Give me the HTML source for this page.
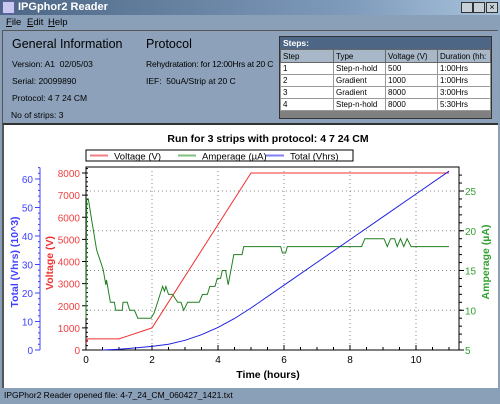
<!DOCTYPE html>
<html><head><meta charset="utf-8"><style>
*{margin:0;padding:0;box-sizing:border-box}
body{width:500px;height:404px;overflow:hidden;background:#8a9fb8;font-family:"Liberation Sans",sans-serif;position:relative}
.abs{position:absolute}
.t{font-size:10px;color:#000;white-space:nowrap}
</style></head><body>
<div class="abs" style="left:0;top:0;width:500px;height:15px;background:linear-gradient(90deg,#4d6685,#7f9bbb 70%,#a9c3dc)">
 <div class="abs" style="left:2px;top:1px;width:13px;height:13px;background:#c8c8f0;border:1px solid #6060a0"></div>
 <div class="abs t" style="left:18px;top:1px;color:#fff;font-weight:bold;font-size:11px">IPGphor2 Reader</div>
 <div class="abs" style="left:461px;top:2px;width:12px;height:11px;background:#c8d0d8;border:1px solid #333"></div>
 <div class="abs" style="left:473px;top:2px;width:12px;height:11px;background:#c8d0d8;border:1px solid #333"></div>
 <div class="abs" style="left:486px;top:2px;width:12px;height:11px;background:#c8d0d8;border:1px solid #333;font-size:9px;line-height:9px;text-align:center">×</div>
</div>
<div class="abs" style="left:0;top:15px;width:500px;height:15px;background:#8a9fb8">
 <span class="abs t" style="left:6px;top:2px;font-size:9.5px"><u>F</u>ile</span>
 <span class="abs t" style="left:27px;top:2px;font-size:9.5px"><u>E</u>dit</span>
 <span class="abs t" style="left:48px;top:2px;font-size:9.5px"><u>H</u>elp</span>
</div>
<div class="abs" style="left:2px;top:30px;width:496px;height:94px;background:#8da2ba;border-top:1px solid #555;border-left:1px solid #555">
 <div class="abs t" style="left:9px;top:6px;font-size:12.5px">General Information</div>
 <div class="abs t" style="left:9px;top:28px;font-size:8.5px">Version: A1&nbsp; 02/05/03</div>
 <div class="abs t" style="left:9px;top:45px;font-size:8.5px">Serial: 20099890</div>
 <div class="abs t" style="left:9px;top:62px;font-size:8.5px">Protocol: 4 7 24 CM</div>
 <div class="abs t" style="left:8px;top:79px;font-size:8.5px">No of strips: 3</div>
 <div class="abs t" style="left:143px;top:6px;font-size:12.5px">Protocol</div>
 <div class="abs t" style="left:143px;top:28px;font-size:8.5px;letter-spacing:-0.2px">Rehydratation: for 12:00Hrs at 20 C</div>
 <div class="abs t" style="left:143px;top:45px;font-size:8.5px">IEF:&nbsp; 50uA/Strip at 20 C</div>
</div>
<div class="abs" style="left:279px;top:36px;width:213px;height:83px;background:#808080;border:1px solid #333">
 <div class="abs t" style="left:0;top:0;width:211px;height:12px;background:#4d6685;color:#fff;font-weight:bold;font-size:8.5px;padding-left:3px;line-height:12px">Steps:</div>
 <table class="abs" style="left:0;top:12px;width:211px;border-collapse:collapse;font-size:8px;table-layout:fixed">
  <tr style="background:#a9b8c8;height:13px"><td style="width:53px;border:1px solid #666;padding-left:2px">Step</td><td style="width:52px;border:1px solid #666;padding-left:2px">Type</td><td style="width:52px;border:1px solid #666;padding-left:2px">Voltage (V)</td><td style="border:1px solid #666;padding-left:2px;white-space:nowrap;overflow:hidden">Duration (hh:</td></tr>
  <tr style="background:#fff;height:12px"><td style="border:1px solid #999;padding-left:2px">1</td><td style="border:1px solid #999;padding-left:2px">Step-n-hold</td><td style="border:1px solid #999;padding-left:2px">500</td><td style="border:1px solid #999;padding-left:2px">1:00Hrs</td></tr>
  <tr style="background:#fff;height:12px"><td style="border:1px solid #999;padding-left:2px">2</td><td style="border:1px solid #999;padding-left:2px">Gradient</td><td style="border:1px solid #999;padding-left:2px">1000</td><td style="border:1px solid #999;padding-left:2px">1:00Hrs</td></tr>
  <tr style="background:#fff;height:12px"><td style="border:1px solid #999;padding-left:2px">3</td><td style="border:1px solid #999;padding-left:2px">Gradient</td><td style="border:1px solid #999;padding-left:2px">8000</td><td style="border:1px solid #999;padding-left:2px">3:00Hrs</td></tr>
  <tr style="background:#fff;height:12px"><td style="border:1px solid #999;padding-left:2px">4</td><td style="border:1px solid #999;padding-left:2px">Step-n-hold</td><td style="border:1px solid #999;padding-left:2px">8000</td><td style="border:1px solid #999;padding-left:2px">5:30Hrs</td></tr>
 </table>
</div>
<div class="abs" style="left:2px;top:123px;width:496px;height:265px;background:#fff;border-top:2px solid #333;border-left:2px solid #555"></div>
<svg class="abs" style="left:0;top:0" width="500" height="404" id="chart" font-family="Liberation Sans, sans-serif"></svg>
<div class="abs" style="left:0;top:388px;width:500px;height:16px;background:#8a9fb8">
 <div class="abs t" style="left:4px;top:2px;font-size:8.5px">IPGPhor2 Reader opened file: 4-7_24_CM_060427_1421.txt</div>
</div>
<script>
const voltT=[0,0.05,1,2,5,11];
const voltV=[300,500,500,1000,8000,8000];
const ampT=[0,0.02,0.07,0.17,0.32,0.52,0.6,0.62,0.74,0.86,0.9,1.1,1.12,1.25,1.32,1.47,1.57,1.97,2.07,2.32,2.38,2.42,2.5,2.62,2.78,2.88,2.96,3.08,3.43,3.53,3.68,3.75,3.91,3.98,4.08,4.13,4.23,4.31,4.43,4.48,4.73,4.78,5.9,5.95,6.05,6.1,8.35,8.45,9.03,9.13,9.23,9.35,9.43,9.53,9.63,9.73,9.85,11];
const ampV=[9,24,24,21.4,17.6,15.1,13.2,13.8,11,11,10,10,11,11,10,10,9,9,9.7,13,12.4,13,12,12,11,11,10,11,11,12,12,13,13,14,14,15,15,13.2,15.9,17,17,18,18,17.2,17.2,18,18,19,19,18,19,19,18,19,18,19,18,18];
const vhT=[0.5,1,1.5,2,2.5,3,3.5,4,4.5,5,6,7,8,9,10,11];
const vhV=[0,0.25,0.75,1.25,2.04,3.42,5.37,7.92,11.04,14.75,22.75,30.75,38.75,46.75,54.75,62.75];
const xTicks=[0,2,4,6,8,10];
const voltTicks=[0,1000,2000,3000,4000,5000,6000,7000,8000];
const ampTicks=[5,10,15,20,25];
const vhTicks=[0,10,20,30,40,50,60];

const L=86,R=459,T=167,B=350;
const X=t=>L+t*33;
const YV=v=>B-v*177/8000;
const YA=a=>B-(a-5)*7.95;
const YH=h=>B-h*171/60;
const NS='http://www.w3.org/2000/svg';
const svg=document.getElementById('chart');
function el(tag,attrs,txt){const e=document.createElementNS(NS,tag);for(const k in attrs)e.setAttribute(k,attrs[k]);if(txt!==undefined)e.textContent=txt;svg.appendChild(e);return e;}

let e=el('rect',{x:L,y:T,width:R-L,height:B-T,fill:'#fff',stroke:'#000'});


xTicks.forEach(t=>{if(t>0){e=el('line',{x1:X(t),x2:X(t),y1:T,y2:B,stroke:'#888','stroke-dasharray':'1,3'});

}
e=el('text',{x:X(t),y:B+13,'text-anchor':'middle','font-size':10},t);

});
for(let t=0;t<=11;t+=0.5){el('line',{x1:X(t),x2:X(t),y1:B,y2:B-(t%2?3:5),stroke:'#000'});}
ampTicks.forEach(a=>{if(a>5){e=el('line',{x1:L,x2:R,y1:YA(a),y2:YA(a),stroke:'#888','stroke-dasharray':'1,3'});

}
el('line',{x1:R,x2:R+5,y1:YA(a),y2:YA(a),stroke:'#000'});
e=el('text',{x:R+6,y:YA(a)+4,'font-size':10,fill:'#30a030'},a);

});
for(let a=5;a<=27;a++)el('line',{x1:R,x2:R+3,y1:YA(a),y2:YA(a),stroke:'#000'});
voltTicks.forEach(v=>{el('line',{x1:L-4,x2:L,y1:YV(v),y2:YV(v),stroke:'#000'});
e=el('text',{x:L-6,y:YV(v)+4,'text-anchor':'end','font-size':10,fill:'#f04040'},v);

});
for(let v=0;v<=8200;v+=200)el('line',{x1:L,x2:L+2,y1:YV(v),y2:YV(v),stroke:'#000'});
el('line',{x1:40,x2:40,y1:YH(64),y2:B,stroke:'#4040ff'});
vhTicks.forEach(h=>{el('line',{x1:35,x2:40,y1:YH(h),y2:YH(h),stroke:'#4040ff'});
e=el('text',{x:33,y:YH(h)+4,'text-anchor':'end','font-size':10,fill:'#4040ff'},h);

});
for(let h=0;h<=64;h+=2)el('line',{x1:38,x2:40,y1:YH(h),y2:YH(h),stroke:'#4040ff'});

function line(ts,vs,yf,col,name){const p=ts.map((t,i)=>X(t).toFixed(1)+','+yf(vs[i]).toFixed(1)).join(' ');
const e=el('polyline',{points:p,fill:'none',stroke:col,'stroke-width':1});

}
line(voltT,voltV,YV,'#f03030','voltage-line');
line(ampT,ampV,YA,'#208020','amperage-line');
line(vhT,vhV,YH,'#2020e0','total-vhrs-line');

e=el('text',{x:268,y:142,'text-anchor':'middle','font-size':10.5,'font-weight':'bold'},'Run for 3 strips with protocol: 4 7 24 CM');


e=el('rect',{x:86,y:150,width:267,height:11,fill:'#fff',stroke:'#000'});


[['Voltage (V)','#f08080',90],['Amperage (µA)','#80c080',178],['Total (Vhrs)','#8080f0',266]].forEach(([n,c,x])=>{
el('line',{x1:x,x2:x+18,y1:155.5,y2:155.5,stroke:c,'stroke-width':2});
const e=el('text',{x:x+24,y:159.5,'font-size':9.5},n);

});
e=el('text',{x:268,y:378,'text-anchor':'middle','font-size':10.5,'font-weight':'bold'},'Time (hours)');


e=el('text',{x:0,y:0,'font-size':10.5,'font-weight':'bold',fill:'#4040ff','text-anchor':'middle',transform:'translate(18,262) rotate(-90)'},'Total (Vhrs) (10^3)');


e=el('text',{x:0,y:0,'font-size':10.5,'font-weight':'bold',fill:'#f03030','text-anchor':'middle',transform:'translate(53,263) rotate(-90)'},'Voltage (V)');


e=el('text',{x:0,y:0,'font-size':10.5,'font-weight':'bold',fill:'#30a030','text-anchor':'middle',transform:'translate(489,262) rotate(-90)'},'Amperage (µA)');


</script>
</body></html>
